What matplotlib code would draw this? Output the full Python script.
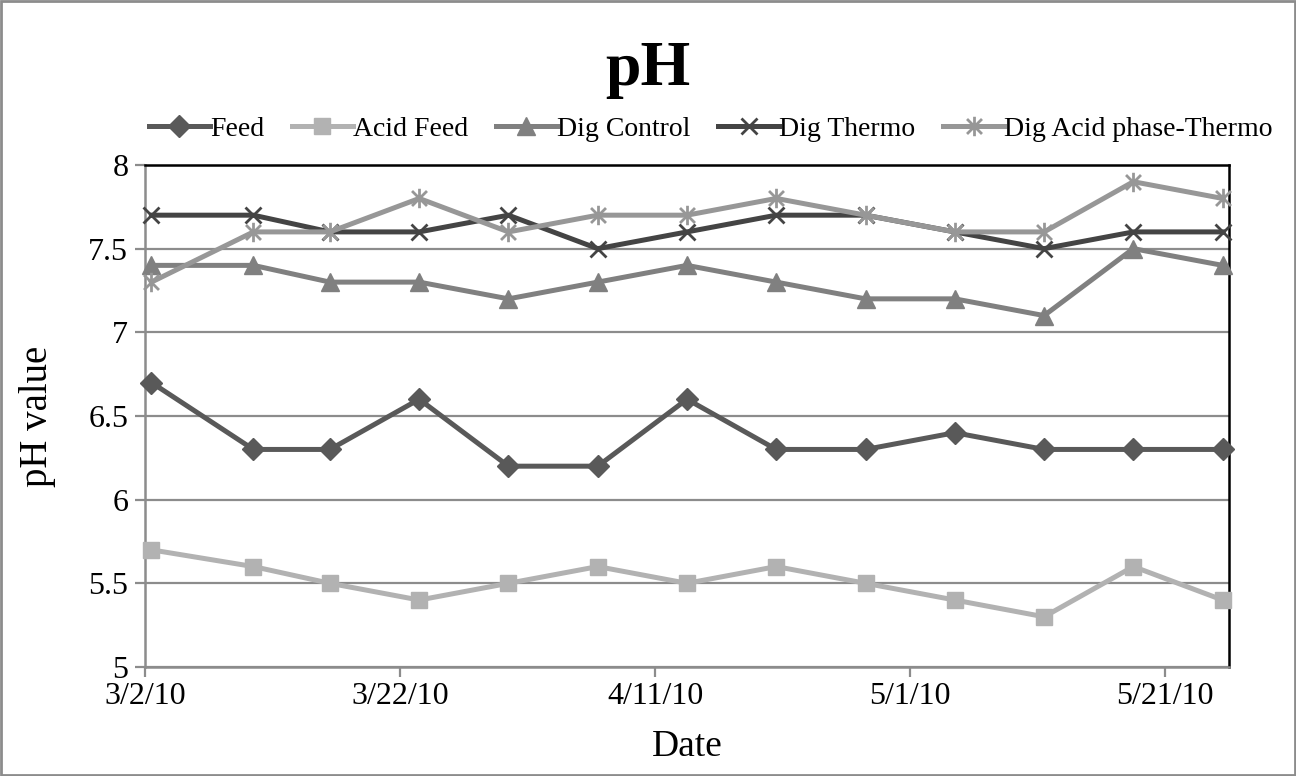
import numpy as np
import pandas as pd
import matplotlib
matplotlib.use("Agg")
import matplotlib.pyplot as plt
import matplotlib.dates as mdates
from matplotlib.path import Path
from matplotlib.patches import Rectangle
from matplotlib.ticker import FuncFormatter, MultipleLocator

# ---------------- data ----------------
dates = ["2010-03-02", "2010-03-10", "2010-03-16", "2010-03-23", "2010-03-30",
         "2010-04-06", "2010-04-13", "2010-04-20", "2010-04-27", "2010-05-04",
         "2010-05-11", "2010-05-18", "2010-05-25"]
feed = [6.7, 6.3, 6.3, 6.6, 6.2, 6.2, 6.6, 6.3, 6.3, 6.4, 6.3, 6.3, 6.3]
acid_feed = [5.7, 5.6, 5.5, 5.4, 5.5, 5.6, 5.5, 5.6, 5.5, 5.4, 5.3, 5.6, 5.4]
dig_control = [7.4, 7.4, 7.3, 7.3, 7.2, 7.3, 7.4, 7.3, 7.2, 7.2, 7.1, 7.5, 7.4]
dig_thermo = [7.7, 7.7, 7.6, 7.6, 7.7, 7.5, 7.6, 7.7, 7.7, 7.6, 7.5, 7.6, 7.6]
dig_acid_thermo = [7.3, 7.6, 7.6, 7.8, 7.6, 7.7, 7.7, 7.8, 7.7, 7.6, 7.6, 7.9, 7.8]
tick_dates = ["2010-03-02", "2010-03-22", "2010-04-11", "2010-05-01", "2010-05-21"]

plt.rcParams['font.family'] = ['Liberation Serif', 'DejaVu Serif']

# excel style star marker: x plus vertical bar
star = Path([(-1, -1), (1, 1), (-1, 1), (1, -1), (0, -1.3), (0, 1.3)],
            [Path.MOVETO, Path.LINETO, Path.MOVETO, Path.LINETO, Path.MOVETO, Path.LINETO])

# excel date axis puts points in the middle of the day
x = pd.to_datetime(dates) + pd.Timedelta(hours=12)

fig = plt.figure(figsize=(12.96, 7.76), dpi=100)
ax = fig.add_axes([0.1119, 0.1405, 0.8364, 0.6469])

series = [
    ("Feed", feed, "#595959", "D", 11),
    ("Acid Feed", acid_feed, "#b2b2b2", "s", 12),
    ("Dig Control", dig_control, "#808080", "^", 13),
    ("Dig Thermo", dig_thermo, "#444444", "x", 12),
    ("Dig Acid phase-Thermo", dig_acid_thermo, "#979797", star, 14),
]
for name, vals, col, mk, ms in series:
    ax.plot(x, vals, color=col, lw=3.6, marker=mk, ms=ms, mec=col, mfc=col,
            mew=2 if mk in ("x",) or mk is star else 1, label=name, clip_on=False, zorder=3)

ax.set_xlim(pd.Timestamp("2010-03-02"), pd.Timestamp("2010-05-26"))
ax.set_ylim(5, 8)
ax.yaxis.set_major_locator(MultipleLocator(0.5))
ax.yaxis.set_major_formatter(FuncFormatter(lambda v, p: f"{v:g}"))
ax.set_xticks(pd.to_datetime(tick_dates))
ax.xaxis.set_major_formatter(FuncFormatter(
    lambda v, p: (lambda d: f"{d.month}/{d.day}/{d.year % 100:02d}")(mdates.num2date(v))))

ax.grid(axis="y", color="#8c8c8c", lw=1.6)
ax.set_axisbelow(True)
for s in ("left", "bottom"):
    ax.spines[s].set_color("#8c8c8c")
    ax.spines[s].set_linewidth(1.8)
for s in ("top", "right"):
    ax.spines[s].set_color("black")
    ax.spines[s].set_linewidth(1.8)
ax.tick_params(axis="both", direction="out", length=7, width=1.6, color="#8c8c8c",
               labelsize=23)
ax.tick_params(axis="x", pad=4)
ax.tick_params(axis="y", pad=5)

ax.set_xlabel("Date", fontsize=27, labelpad=13)
ax.set_ylabel("pH value", fontsize=28, labelpad=23)

fig.text(0.5, 0.91, "pH", ha="center", va="center", fontsize=46, fontweight="bold")
ax.legend(loc="center", bbox_to_anchor=(0.522, 1.072), ncol=5, frameon=False,
          fontsize=20, handlelength=2.2, handletextpad=0.0, columnspacing=1.0,
          borderaxespad=0)

fig.patches.append(Rectangle((0.001, 0.001), 0.998, 0.998, transform=fig.transFigure,
                             fill=False, edgecolor="#8c8c8c", lw=2))

fig.savefig("out.png", dpi=100)
